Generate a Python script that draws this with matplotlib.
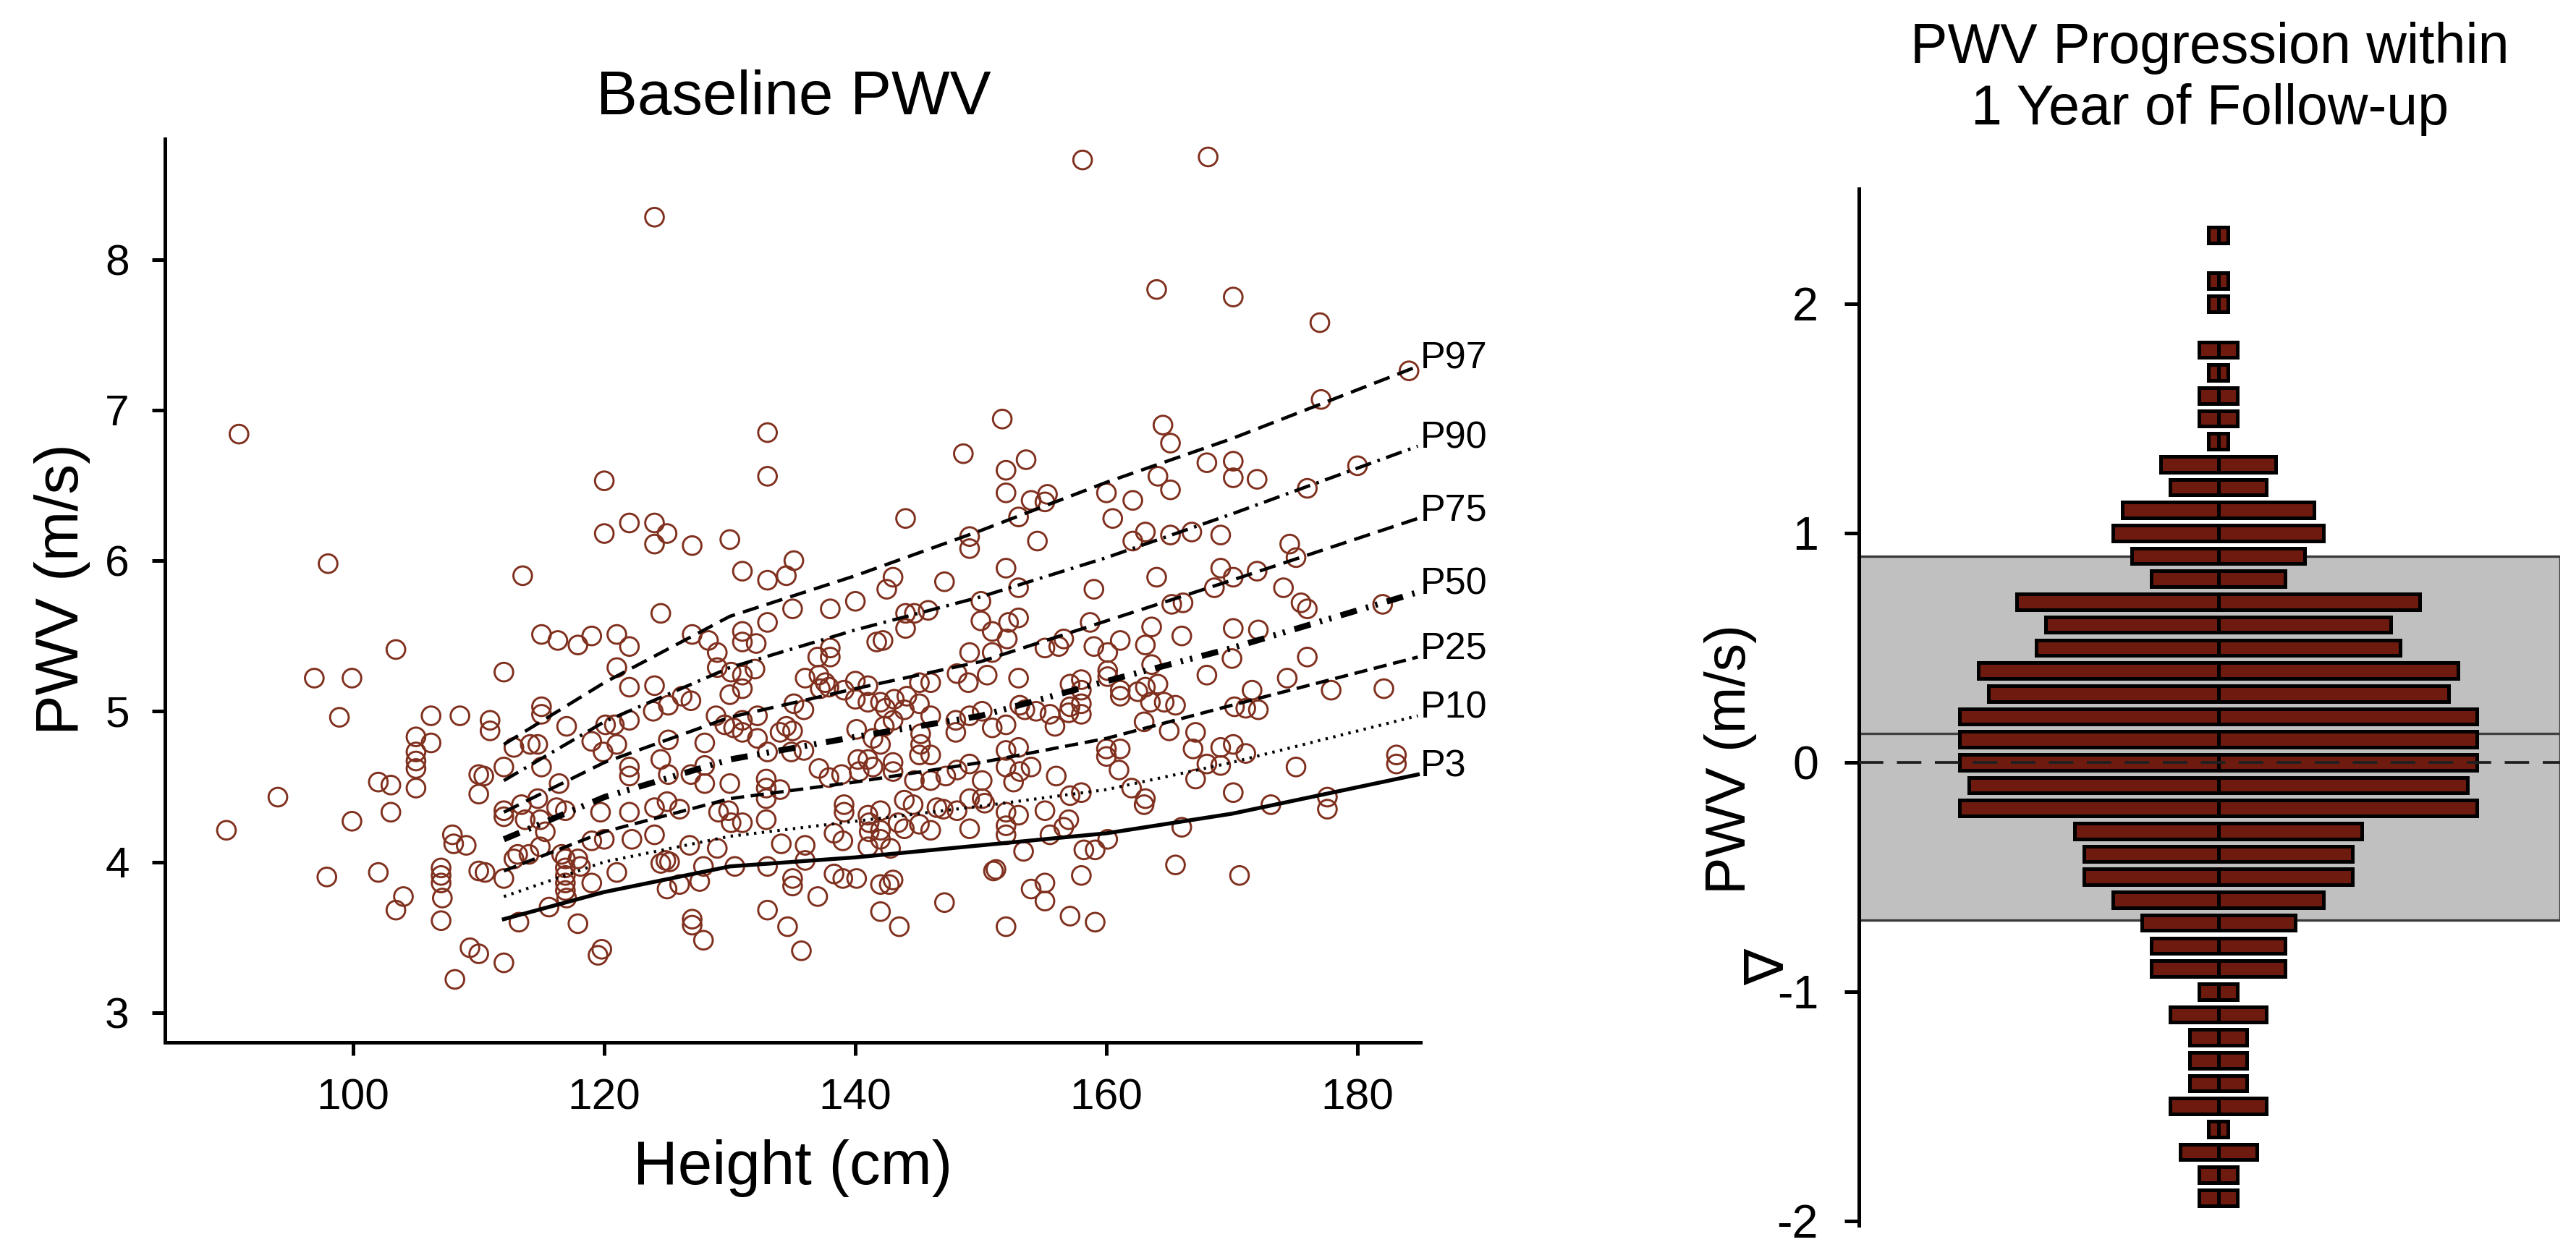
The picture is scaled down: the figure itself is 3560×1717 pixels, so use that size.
import numpy as np
import matplotlib.pyplot as plt

plt.rcParams['font.family'] = ['Liberation Sans', 'DejaVu Sans']
plt.rcParams['axes.unicode_minus'] = False

# ---- baseline PWV vs height (each circle is one child) ----
height = [
    # 112-133 cm, upper part
    120.0, 120.0, 122.0, 124.0, 125.0, 124.0, 127.0, 130.0, 131.0, 113.5, 124.5, 115.0, 116.3, 117.9,
    119.0, 121.0, 122.0, 127.0, 128.3, 129.0, 131.0, 131.0, 132.1,
    # 133-157 cm, upper part
    133.0, 133.0, 151.7, 148.6, 152.0, 153.6, 152.0, 154.0, 155.3, 155.1, 153.0, 154.5, 144.0, 149.1,
    149.1, 152.0, 153.0, 147.1, 143.0, 142.5, 135.1, 134.5, 133.0, 135.0, 138.0, 140.0, 133.0, 144.0,
    144.7, 145.8, 144.0, 150.0, 150.0, 150.9, 152.1, 152.2, 153.0, 141.7, 142.2, 138.0, 137.0, 138.0,
    149.1, 150.9, 155.1, 156.2, 156.6,
    # 158-184 cm, upper part
    184.1, 177.1, 164.5, 165.1, 168.0, 170.1, 170.1, 172.0, 180.0, 176.0, 160.0, 162.1, 164.1, 165.1,
    160.5, 163.1, 162.1, 165.1, 166.8, 169.1, 174.6, 175.1, 164.0, 169.1, 170.1, 168.6, 172.0, 174.1,
    159.0, 165.2, 166.1, 175.5, 176.0, 182.0, 158.7, 163.6, 166.0, 170.1, 172.1, 161.1, 159.0, 160.1,
    163.1, 176.0, 170.0, 163.6,
    # 106-133 cm, lower part
    112.0, 121.0, 122.0, 124.0, 106.2, 108.5, 106.2, 110.9, 110.9, 115.0, 115.0, 117.0, 114.1, 114.7,
    112.8, 112.0, 110.0, 110.4, 110.0, 115.0, 116.4,
    126.9, 125.1, 123.9, 126.2, 122.0, 120.8, 120.1, 119.0, 119.9, 121.0, 125.1, 124.5, 122.0, 122.0,
    125.1, 126.9, 128.0, 128.0, 130.0, 128.0, 128.9, 129.6, 130.0, 131.0, 131.0, 130.1, 132.0, 129.0,
    130.3, 131.0, 132.2, 131.0, 132.2,
    112.0, 112.0, 113.4, 114.7, 113.7, 114.9, 115.3, 116.2, 116.9, 119.7, 122.0, 124.0, 125.0, 126.0,
    129.1, 129.9, 130.1, 131.0,
    107.9, 108.0, 109.0, 113.1, 112.8, 114.0, 114.9, 116.6, 116.9, 116.9, 117.9, 118.1, 119.0, 120.0,
    122.2, 124.0, 126.8, 129.0, 124.9, 124.5, 125.2,
    110.0, 110.5, 112.0, 116.9, 116.9, 116.9, 117.0, 119.0, 121.0, 127.9, 130.4, 125.0, 126.0, 127.6,
    107.0, 107.0, 107.0, 107.1, 107.0, 115.6, 113.2, 117.9, 127.0, 127.0, 127.9, 109.3, 110.0, 112.0,
    119.8, 119.5, 108.1,
    # 133-158 cm, lower part
    136.0, 137.1, 137.6, 137.2, 137.9, 140.0, 141.0, 139.1, 135.1, 135.9, 134.5, 135.0, 134.0, 140.0,
    141.0, 142.0, 142.4, 143.1, 144.1, 143.9, 145.1, 146.0, 145.1, 148.1, 149.0, 150.5, 153.0, 157.1,
    158.0, 158.0, 157.1, 158.0, 158.0, 157.0, 153.1, 153.5, 154.4, 155.5, 150.1, 149.1, 148.0, 146.0,
    143.0, 142.3, 140.1, 141.4, 142.0, 145.2, 145.2, 145.1, 146.0, 148.0, 150.9, 152.0, 155.9,
    135.9, 134.9, 133.0, 140.2, 141.0, 141.4, 140.3, 137.1, 137.9, 138.9, 143.0, 143.0, 144.7, 146.0,
    147.2, 148.1, 149.1, 150.1, 152.0, 153.0, 152.0, 153.1, 154.0, 152.6, 156.0, 158.0, 157.1,
    132.9, 132.9, 134.0, 132.9, 132.9, 139.1, 139.1, 141.0, 142.0, 143.9, 144.6, 146.5, 147.0, 148.1,
    149.1, 150.1, 150.3, 152.0, 153.0, 155.1, 157.0,
    138.3, 139.0, 141.1, 141.1, 142.0, 142.0, 142.8, 141.0, 143.4, 143.9, 145.1, 146.0, 149.1, 152.0,
    152.0, 155.5, 156.6,
    134.1, 136.0, 136.0, 133.0, 153.4, 158.2, 135.0, 135.0, 138.3, 139.0, 140.1, 142.0, 142.7, 143.0,
    137.0, 151.0, 151.2, 154.0, 155.1, 155.1, 158.0, 133.0, 142.0, 147.1, 134.6, 143.5, 152.0, 157.1,
    135.7,
    # 159-184 cm, lower part
    160.1, 160.1, 161.1, 161.1, 162.5, 163.1, 163.5, 164.1, 164.6, 165.5, 168.0, 174.4, 171.6, 170.2,
    171.1, 172.1, 177.9, 182.1, 163.0, 165.0, 167.1, 166.9, 160.0, 161.1, 160.0, 161.0, 169.1, 170.1,
    171.1, 168.0, 169.1, 167.1, 175.1, 183.1, 183.1, 162.0, 163.1, 163.0, 170.1, 173.1, 177.6, 177.6,
    166.0, 160.1, 159.1, 165.5, 170.6, 159.1,
    # below 106 cm
    89.9, 94.0, 96.9, 99.9, 98.9, 97.9, 99.9, 102.0, 102.0, 103.0, 103.0, 103.4, 104.0, 103.4,
    105.0, 105.0, 105.0, 105.0, 105.0, 90.9, 98.0,
    # high values
    124.0, 158.1, 168.1, 164.0, 170.1, 177.0,
]
pwv = [
    6.53, 6.18, 6.25, 6.25, 6.18, 6.11, 6.10, 6.14, 5.93, 5.90, 5.65, 5.51, 5.47, 5.44,
    5.50, 5.51, 5.43, 5.51, 5.47, 5.39, 5.53, 5.46, 5.45,
    6.85, 6.56, 6.94, 6.71, 6.60, 6.67, 6.45, 6.40, 6.44, 6.39, 6.29, 6.13, 6.28, 6.16,
    6.08, 5.95, 5.82, 5.86, 5.89, 5.81, 6.00, 5.90, 5.87, 5.68, 5.68, 5.73, 5.59, 5.65,
    5.65, 5.67, 5.55, 5.73, 5.60, 5.53, 5.48, 5.59, 5.62, 5.46, 5.47, 5.42, 5.36, 5.36,
    5.39, 5.39, 5.42, 5.43, 5.48,
    7.26, 7.07, 6.90, 6.78, 6.65, 6.66, 6.55, 6.54, 6.63, 6.48, 6.45, 6.40, 6.56, 6.47,
    6.28, 6.19, 6.13, 6.17, 6.19, 6.17, 6.11, 6.02, 5.89, 5.95, 5.89, 5.82, 5.93, 5.82,
    5.81, 5.71, 5.72, 5.72, 5.68, 5.71, 5.59, 5.56, 5.50, 5.55, 5.54, 5.47, 5.43, 5.39,
    5.44, 5.36, 5.35, 5.31,
    5.26, 5.29, 5.16, 5.17, 4.97, 4.97, 4.79, 4.94, 4.87, 5.03, 4.98, 4.90, 4.78, 4.78,
    4.76, 4.63, 4.58, 4.57, 4.45, 4.63, 4.52,
    5.07, 5.04, 5.00, 5.10, 4.94, 4.91, 4.91, 4.80, 4.73, 4.78, 4.81, 4.68, 4.63, 4.57,
    4.58, 4.58, 4.64, 4.52, 4.52, 4.79, 4.97, 4.91, 5.11, 5.15, 5.24, 5.26, 5.28, 5.29,
    4.89, 4.94, 4.97, 4.86, 4.82,
    4.34, 4.30, 4.38, 4.42, 4.28, 4.28, 4.20, 4.36, 4.34, 4.33, 4.33, 4.36, 4.40, 4.35,
    4.33, 4.34, 4.26, 4.26,
    4.18, 4.12, 4.11, 4.05, 4.02, 4.05, 4.10, 4.05, 4.02, 3.96, 4.02, 3.97, 4.14, 4.15,
    4.15, 4.18, 4.11, 4.09, 4.01, 3.99, 4.00,
    3.94, 3.93, 3.89, 3.91, 3.86, 3.81, 3.76, 3.86, 3.93, 3.97, 3.97, 3.82, 3.85, 3.87,
    3.96, 3.91, 3.86, 3.76, 3.61, 3.70, 3.60, 3.59, 3.62, 3.58, 3.48, 3.43, 3.39, 3.33,
    3.42, 3.38, 3.22,
    5.22, 5.24, 5.19, 5.15, 5.16, 5.20, 5.17, 5.14, 5.05, 5.01, 4.90, 4.87, 4.86, 5.08,
    5.06, 5.06, 5.02, 5.08, 5.10, 5.01, 5.05, 5.19, 5.19, 5.25, 5.19, 5.24, 5.22, 5.18,
    5.21, 5.14, 5.03, 5.05, 4.98, 4.99, 5.04, 5.01, 5.00, 4.98, 5.00, 4.97, 4.94, 4.97,
    4.94, 4.90, 4.88, 4.82, 4.78, 4.85, 4.78, 4.71, 4.71, 4.86, 4.89, 4.91, 4.90,
    4.74, 4.73, 4.73, 4.68, 4.68, 4.63, 4.60, 4.62, 4.56, 4.58, 4.66, 4.60, 4.54, 4.54,
    4.57, 4.61, 4.65, 4.54, 4.74, 4.76, 4.63, 4.60, 4.63, 4.53, 4.57, 4.46, 4.44,
    4.55, 4.49, 4.48, 4.42, 4.28, 4.38, 4.33, 4.31, 4.34, 4.41, 4.38, 4.36, 4.35, 4.34,
    4.42, 4.42, 4.39, 4.33, 4.31, 4.34, 4.28,
    4.19, 4.14, 4.26, 4.20, 4.21, 4.15, 4.09, 4.10, 4.26, 4.22, 4.25, 4.21, 4.22, 4.24,
    4.18, 4.18, 4.23,
    4.12, 4.11, 4.01, 3.97, 4.07, 4.08, 3.89, 3.84, 3.92, 3.89, 3.89, 3.85, 3.85, 3.88,
    3.77, 3.94, 3.95, 3.82, 3.86, 3.74, 3.91, 3.68, 3.67, 3.73, 3.57, 3.57, 3.57, 3.64,
    3.41,
    5.27, 5.23, 5.14, 5.10, 5.13, 5.16, 5.06, 5.18, 5.06, 5.04, 5.24, 5.22, 5.14, 5.03,
    5.02, 5.01, 5.14, 5.15, 4.93, 4.87, 4.86, 4.75, 4.75, 4.75, 4.70, 4.61, 4.76, 4.78,
    4.72, 4.65, 4.64, 4.55, 4.63, 4.71, 4.65, 4.49, 4.42, 4.38, 4.46, 4.38, 4.43, 4.35,
    4.23, 4.15, 4.08, 3.98, 3.91, 3.60,
    4.21, 4.43, 5.22, 5.22, 4.96, 3.90, 4.27, 3.93, 4.53, 4.51, 4.33, 5.41, 3.77, 3.68,
    4.83, 4.73, 4.67, 4.62, 4.49, 6.84, 5.98,
    8.28, 8.66, 8.68, 7.80, 7.75, 7.58,
]

# ---- percentile reference curves ----
curve_height = [112, 120, 130, 140, 150, 160, 170, 184.8]
p3 = [3.62, 3.80, 3.97, 4.03, 4.11, 4.19, 4.32, 4.58]
p10 = [3.77, 4.00, 4.17, 4.27, 4.37, 4.48, 4.66, 4.97]
p25 = [3.94, 4.20, 4.42, 4.53, 4.66, 4.82, 5.04, 5.36]
p50 = [4.15, 4.43, 4.68, 4.83, 4.97, 5.20, 5.42, 5.79]
p75 = [4.33, 4.66, 4.96, 5.15, 5.33, 5.60, 5.87, 6.28]
p90 = [4.54, 4.93, 5.29, 5.54, 5.76, 6.02, 6.31, 6.76]
p97 = [4.78, 5.19, 5.63, 5.90, 6.20, 6.52, 6.81, 7.29]
curve_names = ['P97', 'P90', 'P75', 'P50', 'P25', 'P10', 'P3']

# ---- 1-year change in PWV, counts per 0.1 m/s bin ----
delta_bins = [2.3, 2.1, 2.0, 1.8, 1.7, 1.6, 1.5, 1.4, 1.3, 1.2, 1.1, 1.0, 0.9, 0.8, 0.7, 0.6,
              0.5, 0.4, 0.3, 0.2, 0.1, 0.0, -0.1, -0.2, -0.3, -0.4, -0.5, -0.6, -0.7, -0.8,
              -0.9, -1.0, -1.1, -1.2, -1.3, -1.4, -1.5, -1.6, -1.7, -1.8, -1.9]
delta_counts = [1, 1, 1, 2, 1, 2, 2, 1, 6, 5, 10, 11, 9, 7, 21, 18,
                19, 25, 24, 27, 27, 27, 26, 27, 15, 14, 14, 11, 8, 7,
                7, 2, 5, 3, 3, 3, 5, 1, 4, 2, 2]
delta_mean = 0.127
band_low, band_high = -0.69, 0.90

point_color = '#80301e'
bar_color = '#6e1a0e'

fig = plt.figure(figsize=(3561 / 300, 1717 / 300), dpi=300)

# left panel
ax = fig.add_axes([0.0640, 0.1605, 0.4872, 0.7277])
ax.scatter(height, pwv, s=38, facecolors='none', edgecolors=point_color, linewidths=0.7, zorder=2)

styles = [
    dict(lw=1.1, dashes=(5, 2.5)),
    dict(lw=1.1, dashes=(5, 2, 0.8, 2)),
    dict(lw=1.1, dashes=(5, 2.5)),
    dict(lw=2.0, dashes=(2.8, 1.6, 0.4, 1.2, 0.4, 1.6)),
    dict(lw=1.1, dashes=(4, 2)),
    dict(lw=1.0, dashes=(0.8, 1.8)),
    dict(lw=1.3),
]
for vals, name, st in zip([p97, p90, p75, p50, p25, p10, p3], curve_names, styles):
    ax.plot(curve_height, vals, color='black', zorder=3, **st)
    ax.text(185, vals[-1] + 0.05, name, fontsize=12.5, ha='left', va='center')

ax.set_xlim(85, 185)
ax.set_ylim(2.8, 8.8)
ax.set_xticks([100, 120, 140, 160, 180])
ax.set_yticks([3, 4, 5, 6, 7, 8])
for side in ['top', 'right']:
    ax.spines[side].set_visible(False)
for side in ['left', 'bottom']:
    ax.spines[side].set_linewidth(1.2)
ax.tick_params(direction='out', length=4.3, width=1.2, labelsize=14.5, pad=7.5)
ax.set_xlabel('Height (cm)', fontsize=20.5, va='center')
ax.xaxis.set_label_coords(0.5, -0.139)
ax.set_ylabel('PWV (m/s)', fontsize=20, va='center')
ax.yaxis.set_label_coords(-0.0818, 0.502)
fig.text(1097 / 3561, 1 - 136 / 1717, 'Baseline PWV', ha='center', va='center', fontsize=20.5)

# right panel
ax2 = fig.add_axes([0.7214, 0.0134, 0.2721, 0.8343])
ax2.axhspan(band_low, band_high, facecolor='#c0c0c0', edgecolor='#3a3a3a', lw=0.8, zorder=0)
ax2.axhline(delta_mean, color='#404040', lw=0.8, zorder=1)
counts = np.array(delta_counts)
ax2.barh(delta_bins, counts, height=0.068, left=0, color=bar_color, edgecolor='black', lw=1.2, zorder=3)
ax2.barh(delta_bins, -counts, height=0.068, left=0, color=bar_color, edgecolor='black', lw=1.2, zorder=3)
ax2.axhline(0, color='#202020', lw=0.9, dashes=(9, 5), zorder=4)

ax2.set_xlim(-37.5, 35.65)
ax2.set_ylim(-2.02, 2.5)
ax2.set_yticks([-2, -1, 0, 1, 2])
ax2.set_xticks([])
for side in ['top', 'right', 'bottom']:
    ax2.spines[side].set_visible(False)
ax2.spines['left'].set_linewidth(1.2)
ax2.tick_params(axis='y', direction='out', length=4.8, width=1.2, labelsize=15.5, pad=8.6)
ax2.set_ylabel('PWV (m/s)', fontsize=18.5, va='center')
ax2.yaxis.set_label_coords(-0.1827, 0.4496)
ax2.text(-0.128, 0.249, '\u2207', transform=ax2.transAxes, rotation=90,
         ha='center', va='center', fontsize=18)
fig.text(3054 / 3561, 1 - 109 / 1717, 'PWV Progression within\n1 Year of Follow-up',
         ha='center', va='center', fontsize=18.5, linespacing=1.2)

fig.savefig('out.png', dpi=300)
